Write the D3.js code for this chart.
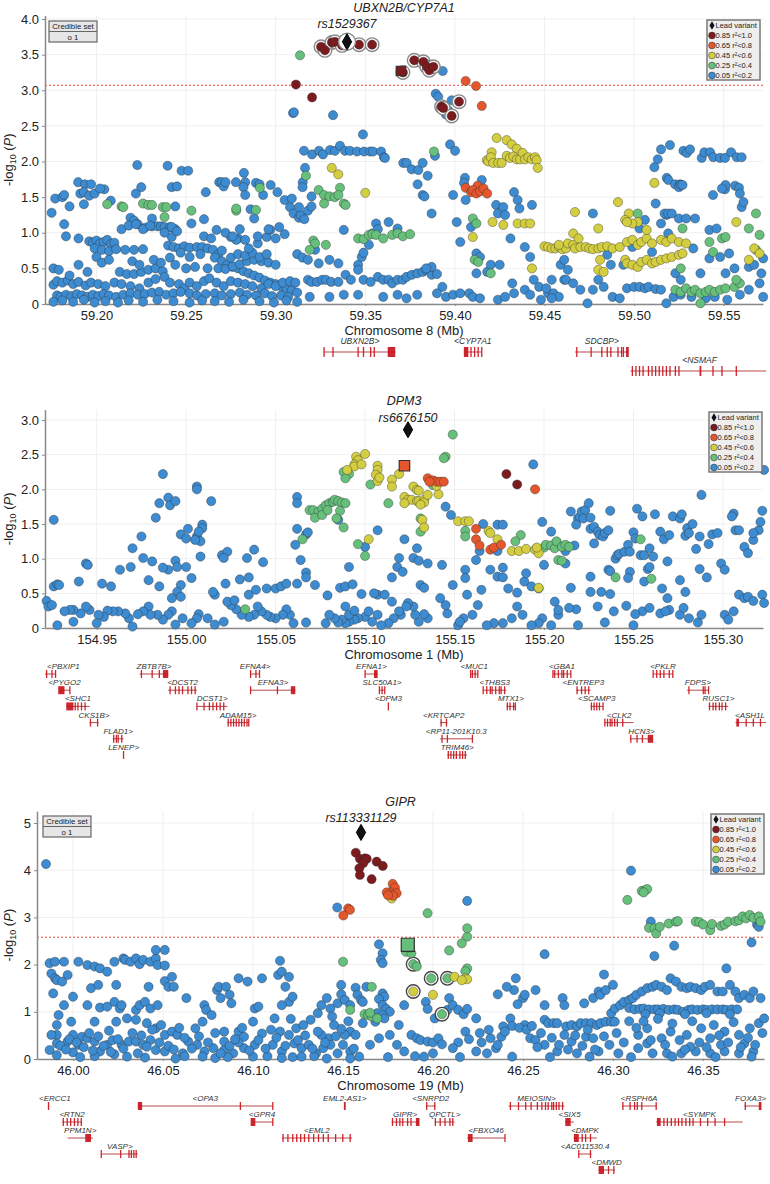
<!DOCTYPE html>
<html>
<head>
<meta charset="utf-8">
<script src="https://d3js.org/d3.v7.min.js"></script>
<style>
  body { margin: 0; background: #fff; }
  svg text { font-family: "Liberation Sans", Arial, sans-serif; }
</style>
</head>
<body>
<svg id="chart" width="770" height="1184"></svg>
<script>
// ---------- shared ----------
const ldLabels = ["0.85 r²<1.0", "0.65 r²<0.8", "0.45 r²<0.6", "0.25 r²<0.4", "0.05 r²<0.2"];
const ldColors = ["#7c1b1e", "#e4572c", "#d3cd40", "#66bf7b", "#3d8bd0"];

// ---------- panel 1 : chr8 ----------
const p1XTicks = [59.20, 59.25, 59.30, 59.35, 59.40, 59.45, 59.50, 59.55];
const p1YTicks = [0, 0.5, 1.0, 1.5, 2.0, 2.5, 3.0, 3.5, 4.0];
const p1Lead = [59.3398, 3.68];
const p1Square = [[59.3699, 3.27, 0]];
const p1Red = [[59.3253,3.61,1],[59.3275,3.56,1],[59.3314,3.67,1],[59.3331,3.68,1],[59.3370,3.63,1],[59.3465,3.64,1],[59.3538,3.64,1],
  [59.3710,3.25,1],[59.3773,3.42,1],[59.3824,3.40,1],[59.3843,3.33,1],[59.3857,3.28,1],[59.3880,3.33,1],
  [59.3926,2.77,1],[59.3935,2.75,1],[59.3982,2.64,1],[59.4023,2.84,1],[59.3113,3.08,0],[59.3203,2.90,0]];
const p1Orange = [[59.4060,3.13],[59.4118,3.06],[59.4150,2.78],[59.4060,1.63],[59.4127,1.66],[59.409,1.57],[59.410,1.60],[59.412,1.55],[59.414,1.58],[59.416,1.62],[59.418,1.55]];
const p1Yellow = [[59.4233,2.33],[59.4289,2.30],[59.4317,2.24],[59.4345,2.18],[59.4205,2.13],[59.4178,2.02],[59.4186,2.00],[59.4201,2.06],[59.4214,1.98],
  [59.4242,1.98],[59.4261,1.98],[59.4289,2.08],[59.4307,2.05],[59.4326,2.07],[59.4345,2.03],[59.4363,2.03],[59.4378,2.12],[59.4391,2.03],[59.4410,2.06],
  [59.4429,2.03],[59.4447,2.06],[59.4456,2.02],[59.4462,1.91],[59.3313,1.91],[59.3349,1.82],[59.350,1.56],[59.410,0.94],[59.421,1.15],[59.427,1.11],
  [59.435,1.13],[59.439,1.13],[59.442,1.13],[59.443,0.50],[59.450,0.81],[59.452,0.80],[59.454,0.78],[59.456,0.78],[59.458,0.80],[59.460,0.77],[59.462,0.78],
  [59.463,0.85],[59.466,0.83],[59.467,0.78],[59.470,0.80],[59.473,0.80],[59.475,0.78],[59.477,0.77],[59.480,0.78],[59.482,0.80],[59.485,0.81],[59.488,0.78],
  [59.466,0.99],[59.469,0.92],[59.458,0.83],[59.467,1.29],[59.491,1.43],[59.497,1.27],[59.502,1.15],[59.499,1.13],[59.495,1.18],[59.496,1.15],[59.480,1.06],
  [59.481,0.62],[59.480,0.48],[59.483,0.45],[59.495,0.62],[59.496,0.57],[59.499,0.55],[59.502,0.52],[59.504,0.59],[59.507,0.62],[59.510,0.57],[59.512,0.59],
  [59.515,0.62],[59.518,0.64],[59.521,0.66],[59.525,0.69],[59.527,0.71],[59.492,0.80],[59.496,0.87],[59.499,0.90],[59.502,0.83],[59.504,0.87],[59.507,0.92],
  [59.510,0.85],[59.515,0.90],[59.518,0.87],[59.521,0.92],[59.525,0.87],[59.529,0.85],[59.507,1.04],[59.5113,1.70],[59.557,1.15],[59.564,0.62],[59.567,0.78],[59.570,0.71]];
const p1Green = [[59.3136,3.49],[59.3169,1.80],[59.3359,1.63],[59.2912,1.63],[59.3883,2.14],
  [59.206,1.40],[59.214,1.37],[59.215,1.36],[59.226,1.41],[59.229,1.39],[59.231,1.39],[59.237,1.36],[59.239,1.36],[59.253,1.31],[59.238,1.22],[59.278,1.31],
  [59.278,1.34],[59.289,1.32],[59.346,0.92],[59.349,0.91],[59.352,0.97],[59.354,0.98],[59.356,0.97],[59.360,0.92],[59.365,0.97],[59.368,0.99],[59.371,0.95],
  [59.375,0.98],[59.321,0.89],[59.322,0.85],[59.319,0.76],[59.328,0.83],[59.324,1.60],[59.327,1.53],[59.330,1.51],[59.333,1.50],[59.335,1.53],[59.338,1.41],
  [59.339,1.39],[59.327,1.41],[59.410,1.20],[59.412,1.13],[59.411,0.62],[59.413,0.59],[59.420,0.43],[59.523,0.20],[59.526,0.17],[59.529,0.22],[59.532,0.17],
  [59.534,0.20],[59.537,0.15],[59.540,0.17],[59.542,0.20],[59.545,0.17],[59.548,0.20],[59.551,0.22],[59.556,0.24],[59.559,0.29],[59.557,0.34],[59.537,0.01],
  [59.502,1.27],[59.526,0.50],[59.527,1.06],[59.549,0.92],[59.551,0.94],[59.542,0.87],[59.544,0.73],[59.564,1.06],[59.568,1.27],[59.570,0.97],[59.568,0.76]];
const p1Blue = [[59.3097,2.68],[59.3102,2.69],[59.3320,2.65],[59.3487,2.38],[59.3158,2.15],[59.3203,2.10],[59.3242,2.15],[59.3264,2.10],[59.3303,2.16],
  [59.3331,2.15],[59.3359,2.22],[59.3387,2.15],[59.3415,2.15],[59.3454,2.14],[59.3493,2.14],[59.3527,2.14],[59.3543,2.14],[59.3588,2.14],[59.3604,2.06],
  [59.3164,1.91],[59.3151,1.71],[59.1898,1.71],[59.1936,1.68],[59.2044,1.61],[59.2228,1.95],[59.2397,1.94],[59.2420,1.64],[59.2475,1.87],[59.2512,1.87],
  [59.2685,1.71],[59.2699,1.71],[59.2778,1.71],[59.2823,1.84],[59.2830,1.71],[59.2890,1.70],[59.2972,1.67],
  [59.3932,3.27],[59.3893,2.95],[59.3907,2.91],[59.3950,2.66],[59.3963,2.72],[59.3982,2.86],[59.3889,2.08],[59.3973,2.24],[59.4001,2.15],[59.3610,2.05],
  [59.3712,1.98],[59.3731,1.98],[59.3759,1.89],[59.3796,1.88],[59.3820,1.98],[59.3848,1.80],[59.3792,1.68],
  [59.5150,2.17],[59.5200,2.23],[59.5132,2.03],[59.5113,1.92],[59.5275,2.15],[59.5294,2.12],[59.5312,2.17],[59.5377,2.05],[59.5392,2.13],[59.5424,2.13],
  [59.5442,2.06],[59.5479,2.05],[59.5507,2.05],[59.5541,2.13],[59.5573,2.06],[59.5600,2.06],[59.5182,1.77],[59.5191,1.74],[59.5228,1.68],[59.5256,1.68],
  [59.5507,1.61],[59.5563,1.66],[59.5585,1.63],[59.4056,1.77],[59.4150,1.74],[59.4051,1.70],
  [59.175,1.28],[59.177,1.48],[59.181,1.50],[59.182,1.53],[59.191,1.55],[59.193,1.57],[59.196,1.52],[59.197,1.68],[59.199,1.55],[59.193,1.40],[59.185,1.37],
  [59.182,1.12],[59.202,1.62],[59.208,1.45],[59.219,1.21],[59.221,1.17],[59.223,1.12],[59.227,1.07],[59.231,1.09],[59.234,1.09],[59.236,1.09],[59.238,1.08],
  [59.241,1.08],[59.244,1.05],[59.222,1.55],[59.225,1.64],[59.231,1.20],[59.242,0.94],[59.245,1.65],[59.244,1.37],[59.253,1.13],[59.260,1.19],[59.261,1.57],
  [59.267,1.04],[59.271,1.65],[59.272,1.71],[59.275,0.94],[59.279,0.92],[59.282,1.64],[59.283,1.53],[59.286,1.33],[59.291,1.68],[59.293,1.53],[59.301,1.57],
  [59.305,1.46],[59.308,1.36],[59.310,1.27],[59.313,1.21],[59.314,1.25],[59.316,1.19],[59.318,1.31],[59.320,1.37],[59.309,1.48],[59.313,1.36],[59.315,1.64],
  [59.320,1.51],[59.302,1.08],[59.295,0.94],[59.297,1.04],
  [59.196,0.88],[59.198,0.86],[59.200,0.89],[59.202,0.85],[59.204,0.87],[59.206,0.90],[59.208,0.84],[59.210,0.86],[59.199,0.78],[59.203,0.76],[59.207,0.74],
  [59.211,0.77],[59.216,0.76],[59.221,0.76],[59.226,0.77],[59.240,0.82],[59.243,0.80],[59.246,0.78],[59.249,0.81],[59.252,0.79],[59.256,0.80],[59.259,0.80],
  [59.262,0.78],[59.265,0.76],[59.268,0.70],[59.258,0.70],[59.252,0.66],[59.247,0.72],[59.266,0.65],[59.270,0.60],[59.273,0.55],[59.276,0.52],[59.279,0.50],
  [59.282,0.46],[59.285,0.43],[59.288,0.40],[59.291,0.37],[59.294,0.33],[59.297,0.30],[59.300,0.28],[59.303,0.25],[59.306,0.22],[59.309,0.19],[59.312,0.16],
  [59.213,0.45],[59.217,0.42],[59.221,0.42],[59.225,0.45],[59.229,0.48],[59.233,0.50],[59.237,0.46],[59.250,0.50],[59.255,0.52],[59.262,0.50],[59.268,0.50],
  [59.272,0.49],[59.276,0.53],[59.280,0.56],[59.284,0.60],[59.288,0.62],[59.292,0.60],[59.296,0.58],[59.300,0.55],[59.275,0.65],[59.279,0.70],[59.283,0.68],
  [59.287,0.72],[59.291,0.66],[59.295,0.70],[59.270,0.75],[59.285,0.78],[59.290,0.85],[59.283,0.90],[59.278,0.90],[59.290,0.95],[59.300,0.92],[59.305,0.98],
  [59.312,0.70],[59.315,0.65],[59.318,0.62],
  [59.176,0.27],[59.178,0.32],[59.181,0.30],[59.184,0.33],[59.187,0.28],[59.190,0.31],[59.194,0.26],[59.197,0.30],[59.201,0.28],[59.205,0.25],[59.210,0.30],
  [59.214,0.28],[59.219,0.25],[59.224,0.22],[59.229,0.30],[59.233,0.35],[59.238,0.38],[59.241,0.30],[59.246,0.28],[59.249,0.22],[59.252,0.30],[59.256,0.25],
  [59.260,0.32],[59.263,0.36],[59.267,0.30],[59.271,0.25],[59.275,0.32],[59.279,0.30],[59.283,0.28],[59.287,0.25],[59.292,0.22],[59.296,0.28],[59.300,0.25],
  [59.304,0.30],[59.308,0.32],[59.311,0.30],
  [59.178,0.12],[59.180,0.10],[59.183,0.13],[59.186,0.11],[59.189,0.14],[59.192,0.12],[59.195,0.10],[59.198,0.13],[59.201,0.11],[59.204,0.14],[59.207,0.12],
  [59.211,0.10],[59.215,0.13],[59.219,0.15],[59.223,0.13],[59.227,0.14],[59.231,0.16],[59.235,0.17],[59.239,0.13],[59.243,0.15],[59.247,0.17],[59.252,0.15],
  [59.256,0.12],[59.261,0.14],[59.266,0.15],[59.270,0.12],[59.275,0.14],[59.280,0.16],[59.284,0.13],[59.289,0.12],[59.294,0.15],[59.298,0.11],[59.303,0.12],
  [59.307,0.10],[59.176,0.03],[59.181,0.05],[59.187,0.03],[59.193,0.06],[59.199,0.02],[59.205,0.04],[59.212,0.02],[59.218,0.05],[59.226,0.03],[59.234,0.06],
  [59.243,0.04],[59.252,0.02],[59.259,0.05],[59.266,0.04],[59.274,0.03],[59.282,0.06],[59.291,0.04],[59.299,0.02],[59.306,0.05],[59.312,0.03],
  [59.176,0.50],[59.179,0.48],[59.185,0.40],[59.190,0.55],[59.195,0.45],[59.200,0.66],[59.203,0.58],[59.207,0.62],[59.220,0.60],[59.224,0.55],[59.232,0.62],
  [59.236,0.58],[59.241,0.65],[59.244,0.55],[59.183,0.95],[59.190,0.92],[59.214,1.05],[59.218,1.10],[59.222,1.12],[59.226,1.05],[59.230,1.10],[59.238,1.00],
  [59.242,1.08],[59.245,1.02],[59.260,0.95],[59.264,0.92],[59.272,1.00],[59.276,0.95],[59.280,1.05],[59.288,1.20],[59.296,1.05],
  [59.318,0.34],[59.320,0.31],[59.323,0.31],[59.326,0.34],[59.328,0.34],[59.331,0.31],[59.335,0.31],[59.339,0.41],[59.342,0.34],[59.346,0.55],[59.346,0.48],
  [59.348,0.66],[59.349,0.34],[59.353,0.31],[59.357,0.38],[59.360,0.34],[59.363,0.34],[59.365,0.29],[59.368,0.34],[59.371,0.34],[59.373,0.38],[59.376,0.41],
  [59.379,0.43],[59.382,0.45],[59.384,0.48],[59.387,0.41],[59.390,0.42],[59.387,0.52],[59.384,0.50],[59.393,0.24],[59.319,0.10],[59.330,0.10],[59.338,0.13],
  [59.346,0.13],[59.360,0.10],[59.368,0.13],[59.373,0.08],[59.379,0.13],[59.390,0.15],[59.395,0.10],[59.399,0.13],[59.403,0.15],[59.408,0.15],[59.410,0.10],
  [59.414,0.08],[59.338,1.04],[59.349,0.72],[59.352,0.83],[59.354,0.99],[59.356,1.13],[59.357,1.05],[59.382,1.53],[59.383,1.51],[59.387,1.27],[59.363,1.15],
  [59.368,1.06],[59.322,0.76],[59.324,0.57],[59.330,0.62],[59.335,0.57],
  [59.399,1.53],[59.401,1.15],[59.403,0.87],[59.406,1.46],[59.409,1.08],[59.412,0.71],[59.412,0.43],[59.414,0.66],[59.418,0.45],[59.420,0.55],[59.423,1.39],
  [59.424,1.27],[59.425,0.55],[59.427,1.36],[59.428,1.25],[59.431,0.92],[59.432,0.29],[59.433,1.57],[59.435,1.46],[59.436,1.34],[59.439,0.80],[59.442,0.66],
  [59.443,1.39],[59.444,0.34],[59.433,0.15],[59.439,0.20],[59.442,0.13],[59.447,0.24],[59.448,0.06],[59.424,0.06],[59.428,0.10],[59.452,0.15],[59.454,0.34],
  [59.455,0.15],[59.458,0.10],[59.459,0.55],[59.461,0.34],
  [59.451,0.22],[59.454,0.08],[59.462,0.34],[59.466,0.29],[59.470,0.20],[59.474,0.01],[59.477,0.20],[59.480,0.34],[59.483,0.24],[59.488,0.10],[59.492,0.08],
  [59.496,0.22],[59.500,0.24],[59.503,0.24],[59.506,0.22],[59.508,0.24],[59.512,0.21],[59.515,0.20],[59.518,0.01],[59.522,0.10],[59.526,0.13],[59.532,0.10],
  [59.540,0.08],[59.545,0.10],[59.552,0.06],[59.559,0.13],[59.564,0.20],[59.570,0.29],[59.572,0.10],[59.461,0.62],[59.463,0.48],[59.477,1.27],[59.485,0.69],
  [59.487,0.55],[59.494,0.55],[59.499,0.80],[59.503,1.06],[59.506,1.18],[59.510,0.73],[59.512,1.41],[59.515,1.13],[59.518,1.25],[59.519,0.99],[59.523,0.43],
  [59.526,0.34],[59.533,0.78],[59.537,0.43],[59.542,0.64],[59.544,1.53],[59.548,0.66],[59.551,0.43],[59.553,0.71],[59.556,0.50],[59.559,1.55],[59.560,1.36],
  [59.561,1.43],[59.564,0.52],[59.567,0.55],[59.571,0.43],[59.572,0.64],[59.517,1.27],[59.519,1.27],[59.521,1.27],[59.525,1.20],[59.529,1.20],[59.534,1.20],
  [59.542,1.04],[59.546,1.06],[59.551,1.67],[59.549,1.62],[59.525,1.64],[59.526,1.67],[59.527,1.67]];
const genes1 = [
  ["UBXN2B>", 59.327, 59.367, 0, [59.327, 59.332, 59.346, 59.349, 59.353, 59.355, [59.3625, 59.3667]]],
  ["<CYP7A1", 59.405, 59.415, 0, [[59.405, 59.4075], 59.409, 59.411, 59.413, 59.415]],
  ["SDCBP>", 59.467, 59.497, 0, [59.468, 59.476, 59.482, 59.485, 59.487, 59.491, 59.493, 59.494, [59.4955, 59.497]]],
  ["<NSMAF", 59.498, 59.575, 1, [59.499, 59.501, 59.503, 59.505, 59.508, 59.510, 59.512, 59.514, 59.516, 59.518, 59.520, 59.523, 59.525, [59.5365, 59.5375], 59.544, 59.549, 59.557]]
];

// ---------- panel 2 : chr1 ----------
const p2XTicks = [154.95, 155.00, 155.05, 155.10, 155.15, 155.20, 155.25, 155.30];
const p2YTicks = [0, 0.5, 1.0, 1.5, 2.0, 2.5, 3.0];
const p2Lead = [155.124, 2.86];
const p2Square = [[155.122, 2.34, 1]];
const p2Red = [[155.179,2.22],[155.185,2.07]];
const p2Orange = [[155.195,2.00],[155.135,2.16],[155.138,2.13],[155.140,2.11],[155.142,2.11],[155.144,2.11],[155.136,2.11],[155.162,1.43],[155.162,1.28],
  [155.164,1.19],[155.170,1.13],[155.172,1.16],[155.176,1.20]];
const p2Yellow = [[155.095,2.47],[155.096,2.42],[155.100,2.51],[155.094,2.36],[155.094,2.33],[155.090,2.28],[155.098,2.36],[155.107,2.34],[155.107,2.28],
  [155.106,2.21],[155.107,2.12],[155.108,2.17],[155.119,2.22],[155.115,2.14],[155.115,2.04],[155.127,2.04],[155.129,1.99],[155.130,1.98],[155.122,1.89],
  [155.124,1.85],[155.126,1.85],[155.129,1.83],[155.130,1.83],[155.133,1.85],[155.133,1.81],[155.131,1.78],[155.122,1.80],[155.135,1.92],[155.141,1.93],
  [155.140,2.05],[155.132,1.56],[155.133,1.45],[155.102,1.28],[155.182,1.11],[155.186,1.11],[155.190,1.14],[155.195,1.13],[155.197,1.08],[155.196,1.16],
  [155.169,1.40],[155.170,1.37],[155.174,1.28],[155.152,1.54],[155.156,1.54],[155.158,1.54],[155.197,0.58]];
const p2Green = [[155.149,2.79],[155.145,2.47],[155.144,2.45],[155.088,2.25],[155.091,2.22],[155.089,2.16],[155.103,2.07],[155.113,1.80],[155.131,1.58],
  [155.131,1.39],[155.138,2.06],[155.069,1.70],[155.071,1.70],[155.074,1.68],[155.076,1.72],[155.078,1.77],[155.080,1.80],[155.082,1.82],[155.083,1.85],
  [155.085,1.83],[155.087,1.81],[155.089,1.80],[155.072,1.59],[155.076,1.63],[155.079,1.70],[155.086,1.69],[155.084,1.58],[155.088,1.45],[155.096,1.21],
  [155.100,1.04],[155.065,1.28],[155.156,1.40],[155.156,1.32],[155.200,1.16],[155.201,1.20],[155.204,1.19],[155.206,1.15],[155.207,1.25],[155.210,1.17],
  [155.212,1.20],[155.208,0.98],[155.210,0.97],[155.214,1.17],[155.187,1.34],[155.184,1.25],[155.033,0.27],[155.254,1.28],[155.240,0.73],[155.260,0.71],
  [155.197,0.57]];
const p2Blue = [[155.194,2.36],[155.323,2.28],[154.987,2.22],[154.983,1.59],[154.985,1.80],[154.990,1.88],[154.991,1.77],[154.994,1.83],[155.006,2.04],
  [155.006,2.00],[155.014,1.83],[155.009,1.49],[155.009,1.44],[155.001,1.43],[154.997,1.35],[155.000,1.29],[155.006,1.32],[155.008,1.25],[155.007,1.39],
  [155.005,1.27],[155.000,0.88],[155.008,1.03],[155.020,1.05],[155.023,1.10],[155.021,1.01],[155.034,1.01],[155.038,1.13],[155.043,0.95],[154.994,0.97],
  [154.995,0.88],[154.990,0.84],[154.987,0.87],[154.981,0.96],[154.976,1.01],[154.975,1.32],[154.969,0.88],[154.963,0.84],[154.958,0.60],[154.953,0.64],
  [154.944,0.93],[154.945,0.91],[154.940,0.67],[154.926,0.60],[154.928,0.63],[154.929,0.62],[154.926,1.56],[154.979,0.69],[154.985,0.60],[154.970,1.15],
  [154.997,0.62],[154.995,0.52],[154.992,0.43],[154.997,0.45],[155.003,0.72],[155.016,0.48],[155.015,0.52],[155.022,0.64],[155.030,0.70],[155.035,0.73],
  [155.045,0.57],[155.035,0.48],[155.039,0.55],[155.050,0.57],[155.053,0.60],[155.056,0.64],[155.062,1.89],[155.062,1.80],[155.061,1.20],[155.062,1.43],
  [155.067,1.35],[155.068,1.38],[155.064,0.98],[155.067,0.80],[155.067,0.73],[155.062,0.64],[155.072,0.62],[155.079,0.47],[155.086,0.58],[155.089,0.60],
  [155.093,0.63],[155.091,0.88],[155.085,1.56],[155.100,1.17],[155.107,1.41],[155.107,0.48],[155.111,0.48],[155.115,0.73],[155.118,0.88],[155.119,1.01],
  [155.121,0.81],[155.122,1.28],[155.127,1.01],[155.129,1.15],[155.130,0.97],[155.131,0.62],[155.133,0.58],[155.135,0.93],[155.143,0.91],[155.145,1.75],
  [155.148,1.63],[155.149,0.62],[155.156,0.84],[155.162,0.98],[155.164,1.11],[155.166,1.50],[155.174,1.49],[155.177,1.49],[155.174,1.11],[155.170,0.84],
  [155.174,0.74],[155.177,0.73],[155.177,0.87],[155.156,0.72],[155.157,0.48],[155.165,0.55],[155.180,0.57],[155.185,0.51],[155.189,0.67],[155.190,0.79],
  [155.193,0.60],[155.199,1.53],[155.200,0.91],[155.204,1.39],[155.212,0.93],[155.215,0.58],[155.207,1.24],[155.212,1.11],[155.217,1.19],[155.215,1.68],
  [155.219,1.58],[155.220,1.60],[155.221,1.68],[155.223,1.70],[155.225,1.80],[155.222,1.58],[155.218,1.49],[155.226,1.59],[155.226,1.43],[155.228,1.46],
  [155.230,1.39],[155.231,1.34],[155.233,1.32],[155.234,1.37],[155.236,1.41],[155.237,1.69],[155.228,1.22],[155.236,0.84],[155.237,0.82],[155.240,1.00],
  [155.241,1.05],[155.242,1.07],[155.245,1.10],[155.247,1.20],[155.248,1.10],[155.250,1.38],[155.251,1.29],[155.252,1.72],[155.254,1.05],[155.255,1.61],
  [155.256,1.05],[155.258,0.85],[155.259,1.15],[155.261,1.03],[155.262,1.64],[155.265,1.39],[155.267,1.28],[155.269,0.96],[155.270,1.34],[155.272,1.61],
  [155.276,1.58],[155.277,1.64],[155.279,1.33],[155.280,1.44],[155.281,1.37],[155.283,1.50],[155.285,1.14],[155.287,1.32],[155.288,1.92],[155.292,1.21],
  [155.294,1.35],[155.287,0.85],[155.297,1.37],[155.307,1.41],[155.309,1.41],[155.306,1.65],[155.305,1.61],[155.312,1.17],[155.314,1.08],[155.317,1.27],
  [155.320,1.41],[155.321,1.53],[155.322,1.69],[155.317,1.37],[155.291,0.73],[155.299,0.93],[155.301,0.84],[155.276,0.69],[155.279,0.52],[155.269,0.43],
  [155.270,0.26],[155.276,0.19],[155.278,0.29],[155.281,0.14],[155.286,0.08],[155.288,0.19],[155.301,0.19],[155.303,0.12],[155.306,0.24],[155.309,0.48],
  [155.312,0.43],[155.314,0.45],[155.317,0.39],[155.322,0.48],[155.323,0.36],[155.255,0.24],[155.251,0.20],[155.259,0.29],[155.265,0.21],[155.268,0.24],
  [155.266,0.57],[155.256,0.67],[155.259,0.88],[155.248,0.81],[155.247,0.72],[155.246,0.32],[155.250,0.04],[155.239,0.24],[155.237,0.49],[155.232,0.52],
  [155.230,0.31],[155.226,0.74],[155.226,0.52],[155.234,0.08],[155.219,0.04],[155.218,0.27],[155.214,0.29],[155.208,0.19],[155.206,0.38],[155.208,0.26],
  [155.199,0.14],[155.197,0.07],[155.204,0.04],[155.193,0.04],[155.188,0.19],[155.185,0.31],[155.182,0.14],[155.177,0.07],[155.172,0.07],[155.168,0.04],
  [155.163,0.33],[155.160,0.19],[155.155,0.14],[155.152,0.04],[155.153,0.09],[155.146,0.21],[155.145,0.33],[155.142,0.43],[155.135,0.14],[155.130,0.09],
  [155.133,0.20],[155.128,0.19],[155.127,0.31],[155.124,0.36],[155.123,0.31],[155.120,0.19],[155.119,0.24],[155.116,0.14],[155.113,0.07],[155.109,0.04],
  [155.107,0.19],[155.104,0.09],[155.100,0.16],[155.096,0.14],[155.094,0.12],[155.091,0.09],[155.089,0.07],[155.087,0.12],[155.085,0.08],[155.083,0.14],
  [155.089,0.31],[155.091,0.19],[155.094,0.25],[155.102,0.24],[155.115,0.38],[155.105,0.50],[155.098,0.49],[155.078,0.07],[155.080,0.19],[155.067,0.08],
  [155.060,0.07],[155.058,0.19],[155.056,0.27],[155.054,0.19],[155.050,0.14],[155.047,0.16],[155.045,0.19],[155.042,0.24],[155.040,0.31],[155.038,0.19],
  [155.035,0.16],[155.031,0.19],[155.028,0.27],[155.025,0.33],[155.023,0.38],[155.027,0.40],[155.021,0.09],[155.016,0.05],[155.012,0.14],[155.007,0.20],
  [155.006,0.14],[155.003,0.07],[154.998,0.14],[154.994,0.05],[154.992,0.24],[154.990,0.19],[154.987,0.12],[154.984,0.19],[154.979,0.31],[154.980,0.19],
  [154.976,0.24],[154.973,0.20],[154.970,0.02],[154.968,0.14],[154.966,0.21],[154.962,0.24],[154.959,0.24],[154.956,0.25],[154.954,0.16],[154.951,0.19],
  [154.950,0.07],[154.946,0.26],[154.944,0.31],[154.941,0.21],[154.937,0.26],[154.937,0.09],[154.935,0.26],[154.932,0.24],[154.928,0.04],[154.922,0.39],
  [154.923,0.31],[154.925,0.33]];
const genes2 = [
  ["<PBXIP1", 154.921, 154.927, 0, [154.922, 154.925, 154.927]],
  ["ZBTB7B>", 154.974, 154.990, 0, [154.975, 154.981, 154.985, [154.987, 154.990]]],
  ["EFNA4>", 155.036, 155.041, 0, [155.036, 155.039, 155.041]],
  ["EFNA1>", 155.100, 155.107, 0, [155.100, [155.105, 155.107]]],
  ["<MUC1", 155.159, 155.163, 0, [155.159, 155.160, 155.1615, 155.163]],
  ["<GBA1", 155.205, 155.215, 0, [155.205, 155.206, 155.208, 155.210, 155.211, 155.213, 155.215]],
  ["<PKLR", 155.261, 155.272, 0, [155.261, 155.263, 155.265, 155.267, 155.270, 155.272]],
  ["<PYGO2", 154.929, 154.935, 1, [[154.9285, 154.932], 154.935]],
  ["<DCST2", 154.990, 155.006, 1, [154.991, 154.994, 154.996, 154.998, 155.001, 155.003, 155.005]],
  ["EFNA3>", 155.036, 155.061, 1, [155.036, 155.051, [155.0585, 155.061]]],
  ["SLC50A1>", 155.108, 155.111, 1, [155.108, 155.1095, 155.111]],
  ["<THBS3", 155.166, 155.179, 1, [155.166, 155.168, 155.170, 155.171, 155.173, 155.175, 155.176, 155.178]],
  ["<ENTREP3", 155.218, 155.226, 1, [155.2185, 155.221, 155.223, 155.225]],
  ["FDPS>", 155.280, 155.292, 1, [155.281, 155.289, 155.290, 155.292]],
  ["<SHC1", 154.933, 154.946, 2, [[154.933, 154.937], 154.938, 154.9395, 154.9415, 154.9435]],
  ["DCST1>", 155.006, 155.023, 2, [155.006, 155.010, 155.013, 155.015, 155.017, 155.019, 155.021]],
  ["<DPM3", 155.113, 155.1131, 2, [155.113]],
  ["MTX1>", 155.179, 155.184, 2, [155.1795, 155.181, 155.183, 155.184]],
  ["<SCAMP3", 155.226, 155.233, 2, [155.2265, 155.228, 155.2295, 155.231, 155.233]],
  ["RUSC1>", 155.292, 155.303, 2, [155.2925, 155.2945, 155.296, 155.298, 155.2995, 155.3015]],
  ["CKS1B>", 154.946, 154.951, 3, [154.9465, 154.9505]],
  ["ADAM15>", 155.023, 155.035, 3, [155.0235, 155.025, 155.0265, 155.028, 155.0295, 155.031, 155.0325, 155.034, 155.035]],
  ["<KRTCAP2", 155.142, 155.146, 3, [155.1425, 155.1455]],
  ["<CLK2", 155.234, 155.250, 3, [155.234, 155.2355, 155.237, 155.238, 155.2395, 155.241, 155.244]],
  ["<ASH1L", 155.307, 155.327, 3, [[155.3075, 155.309], 155.313, 155.317, 155.321]],
  ["FLAD1>", 154.959, 154.965, 4, [154.9595, 154.961, 154.962, 154.964]],
  ["<RP11-201K10.3", 155.142, 155.160, 4, [155.143, 155.146, 155.160]],
  ["HCN3>", 155.248, 155.261, 4, [155.2485, 155.252, 155.255, [155.258, 155.261]]],
  ["LENEP>", 154.965, 154.9651, 5, [154.965]],
  ["TRIM46>", 155.146, 155.157, 5, [155.1465, 155.148, 155.1495, 155.151, 155.153, 155.1545, 155.156]]
];

// ---------- panel 3 : chr19 ----------
const p3XTicks = [46.00, 46.05, 46.10, 46.15, 46.20, 46.25, 46.30, 46.35];
const p3YTicks = [0, 1, 2, 3, 4, 5];
const p3Lead = [46.160, 4.80];
const p3Square = [[46.186, 2.42, 3]];
const p3Red = [[46.1571,4.37],[46.1594,4.24],[46.1622,4.25],[46.1632,4.24],[46.1613,4.15],[46.1591,4.04],[46.1594,3.90],[46.1659,3.81],[46.1687,4.18],[46.1721,4.09]];
const p3Orange = [[46.1776,3.71],[46.1789,3.63],[46.1761,3.53],[46.1743,3.53],[46.1798,3.51],[46.1778,3.46],[46.1750,3.47],[46.1529,3.19],[46.1539,3.16],[46.1502,3.04]];
const p3Yellow = [[46.1771,3.40,0],[46.212,1.74,0],[46.218,1.71,0],[46.219,1.69,0],[46.216,1.67,0],[46.189,1.43,1],[46.200,1.36,0]];
const p3Green = [[46.197,3.09,0],[46.308,3.37,0],[46.316,3.56,0],[46.318,3.58,0],[46.319,3.60,0],[46.317,3.53,0],[46.320,2.78,0],[46.323,2.77,0],[46.324,2.66,0],
  [46.326,2.80,0],[46.331,2.87,0],[46.335,2.91,0],[46.336,2.92,0],[46.346,2.91,0],[46.348,2.90,0],[46.350,2.85,0],[46.354,2.73,0],[46.355,2.86,0],[46.360,2.82,0],
  [46.362,2.85,0],[46.364,2.91,0],[46.368,2.92,0],[46.370,2.94,0],[46.372,3.02,0],[46.374,2.98,0],[46.376,3.05,0],[46.378,2.99,0],[46.381,3.02,0],[46.382,2.91,0],
  [46.219,2.59,0],[46.219,2.77,0],[46.216,2.45,0],[46.209,2.30,0],[46.219,1.92,0],[46.218,1.86,0],[46.185,2.27,0],[46.188,2.24,0],[46.187,2.36,0],[46.189,2.01,1],
  [46.191,1.96,0],[46.199,1.71,1],[46.208,1.71,1],[46.205,0.95,1],[46.150,2.06,0],[46.166,1.53,0],[46.154,1.04,0],[46.162,0.95,0],[46.164,0.93,0],[46.166,0.90,0],
  [46.169,0.86,0],[46.165,0.98,0]];
const p3Blue = [[45.985,4.13],[46.1468,3.21],[46.219,3.35],[46.310,3.99],[46.321,2.91],[46.380,2.85],[46.381,2.80],[46.377,2.47],[46.334,2.40],[46.323,2.18],
  [46.363,1.92],[46.170,2.43],[46.172,2.24],[46.171,2.10],[46.172,2.03],[46.149,1.57],[46.157,1.51],[46.163,1.53],[46.158,1.36],[46.160,1.25],[46.161,1.21],
  [46.172,1.39],[46.173,1.32],[46.170,1.27],[46.172,1.14],[46.174,1.06],[46.176,1.00],[46.169,0.97],[46.172,0.93],[46.173,0.86],[46.168,0.79],[46.184,1.14],
  [46.181,0.72],[46.161,0.76],[46.154,0.58],[46.151,0.51],[46.157,0.51],[46.149,0.64],[46.145,0.72],[46.142,0.44],[46.138,0.51],[46.143,0.30],[46.147,0.12],
  [46.154,0.16],[46.159,0.05],[46.165,0.30],[46.170,0.44],[46.176,0.51],[46.180,0.30],[46.184,0.16],[46.188,0.51],[46.191,0.44],[46.193,0.40],[46.197,0.37],
  [46.200,0.35],[46.203,0.44],[46.205,0.31],[46.195,0.05],[46.200,0.12],[46.196,1.21],[46.197,1.06],[46.201,0.86],[46.208,1.04],[46.209,1.29],[46.211,1.14],
  [46.214,1.04],[46.217,0.95],[46.218,0.58],[46.219,1.06],[46.220,0.42],[46.214,0.35],[46.211,0.23],[46.224,0.16],[46.230,0.12],[46.235,0.23],[46.238,0.47],
  [46.232,0.44],[46.227,0.35],[46.224,0.86],[46.236,1.37],[46.245,1.46],[46.246,1.71],[46.241,1.53],[46.250,1.29],[46.251,1.36],[46.247,1.16],[46.239,0.69],
  [46.243,0.86],[46.251,0.72],[46.254,0.44],[46.257,0.40],[46.257,1.46],[46.262,2.22],[46.262,1.14],[46.262,0.83],[46.264,0.76],[46.267,0.76],[46.269,0.76],
  [46.272,1.29],[46.273,1.14],[46.274,0.69],[46.277,0.72],[46.280,0.69],[46.282,0.76],[46.285,0.76],[46.288,0.76],[46.291,0.72],[46.293,0.76],[46.296,0.79],
  [46.299,0.79],[46.301,0.79],[46.273,0.51],[46.285,0.47],[46.289,0.44],[46.277,0.37],[46.262,0.30],[46.269,0.16],[46.280,0.12],[46.292,0.16],[46.303,0.12],
  [46.284,1.18],[46.289,1.29],[46.292,1.43],[46.293,1.36],[46.295,1.79],[46.296,1.46],[46.300,1.57],[46.299,0.97],[46.301,1.07],[46.304,1.14],[46.306,1.21],
  [46.309,1.25],[46.311,1.29],[46.313,1.36],[46.316,1.43],[46.319,1.50],[46.322,1.53],[46.324,1.57],[46.327,1.53],[46.330,1.46],[46.332,1.71],[46.335,1.64],
  [46.338,1.53],[46.341,1.50],[46.343,1.53],[46.346,1.50],[46.349,1.46],[46.351,1.53],[46.354,1.57],[46.358,1.43],[46.361,1.43],[46.365,1.57],[46.368,1.43],
  [46.370,1.29],[46.373,1.36],[46.376,1.29],[46.378,1.43],[46.382,1.29],
  [46.309,1.08],[46.312,1.05],[46.315,1.06],[46.317,1.07],[46.320,1.05],[46.323,1.05],[46.325,1.05],[46.328,1.06],[46.331,1.04],[46.334,1.05],[46.336,1.04],
  [46.339,1.00],[46.342,1.04],[46.344,1.05],[46.347,1.04],[46.350,1.05],[46.352,1.04],[46.355,1.05],[46.358,1.05],[46.361,1.05],[46.363,1.04],[46.366,1.05],
  [46.369,1.05],[46.318,0.95],[46.326,0.97],[46.340,0.95],[46.352,0.97],[46.365,0.95],
  [46.314,0.51],[46.319,0.65],[46.327,0.44],[46.332,0.58],[46.341,0.51],[46.349,0.65],[46.354,0.44],[46.362,0.58],[46.370,0.51],[46.376,0.65],[46.381,0.76],
  [46.384,0.86],[46.314,0.23],[46.322,0.12],[46.330,0.12],[46.338,0.12],[46.346,0.16],[46.354,0.12],[46.362,0.16],[46.370,0.12],[46.378,0.16],[46.319,0.33],
  [46.343,0.26],[46.360,0.30],[46.373,0.33],
  [45.987,2.03],[45.990,2.06],[45.988,1.81],[45.990,1.71],[45.989,1.39],[45.991,1.67],[45.992,0.93],[45.991,0.72],[45.991,0.51],[45.988,0.51],[45.991,0.33],
  [45.987,0.19],[45.991,0.08],[45.995,2.06],[45.997,1.78],[45.994,1.64],[46.000,1.32],[45.995,1.14],[45.999,0.79],[46.000,0.51],[45.997,0.37],[46.000,0.14],
  [46.003,0.30],[46.005,0.47],[46.008,1.14],[46.010,1.50],[46.003,2.06],[46.008,1.99],[46.012,1.96],[46.015,1.92],[46.019,1.85],[46.014,1.57],[46.015,1.09],
  [46.019,1.11],[46.023,1.21],[46.023,2.06],[46.024,1.57],[46.026,1.07],[46.027,1.14],[46.030,0.86],[46.024,0.79],[46.012,0.79],[46.008,0.44],[46.012,0.37],
  [46.015,0.16],[46.019,0.30],[46.022,0.40],[46.023,0.10],[46.027,0.30],[46.031,0.37],[46.028,2.13],[46.029,2.10],[46.032,2.06],[46.035,2.13],[46.037,2.01],
  [46.039,2.10],[46.042,1.53],[46.043,2.06],[46.046,2.13],[46.047,1.99],[46.051,1.98],[46.046,2.31],[46.051,2.31],[46.051,1.65],[46.053,1.53],[46.055,1.74],
  [46.056,1.53],[46.035,1.04],[46.037,1.14],[46.040,1.21],[46.043,1.07],[46.047,1.14],[46.035,0.83],[46.041,0.76],[46.046,0.65],[46.049,0.72],[46.051,0.51],
  [46.055,0.58],[46.058,0.51],[46.035,0.37],[46.039,0.30],[46.043,0.40],[46.046,0.19],[46.051,0.16],[46.057,0.01],[46.061,0.12],[46.064,0.37],[46.063,1.29],
  [46.068,0.65],[46.072,0.79],[46.073,1.14],[46.074,1.04],[46.077,0.93],[46.080,1.46],[46.081,1.53],[46.082,1.29],[46.085,1.53],[46.087,1.36],[46.088,1.18],
  [46.092,1.71],[46.097,1.64],[46.084,0.58],[46.092,0.58],[46.095,0.47],[46.100,0.79],[46.101,1.07],[46.103,1.11],[46.105,1.71],[46.114,1.78],[46.115,2.08],
  [46.116,1.85],[46.120,1.74],[46.118,1.53],[46.120,1.21],[46.122,1.32],[46.116,1.14],[46.112,0.86],[46.115,0.58],[46.120,0.51],[46.124,0.65],[46.128,0.72],
  [46.132,0.83],[46.136,0.97],[46.138,1.14],[46.141,1.29],[46.143,1.07],[46.147,1.18],[46.149,1.37],[46.151,1.25],[46.154,1.14],[46.105,0.54],[46.101,0.30],
  [46.095,0.23],[46.089,0.12],[46.084,0.19],[46.078,0.23],[46.073,0.16],[46.069,0.30],[46.084,0.37],[46.092,0.35],[46.111,0.30],[46.116,0.16],[46.123,0.33],
  [46.127,0.23],[46.131,0.30],[46.135,0.12],[46.139,0.23],[46.072,0.05],[46.079,0.02],[46.100,0.05],[46.116,0.02],[46.127,0.05],[46.141,0.01],[46.154,0.01],
  [46.004,0.04],[46.012,0.06],[46.030,0.05],[46.040,0.03],[46.062,0.06],[46.086,0.04],[46.108,0.06],[46.122,0.04],[46.134,0.06],[46.175,0.04],[46.190,0.06],
  [46.215,0.04],[46.244,0.05],[46.265,0.04],[46.287,0.05],[46.310,0.04],[46.333,0.05],[46.357,0.04],[46.377,0.05],
  [45.993,0.28],[45.996,0.20],[45.998,0.42],[46.002,0.35],[46.006,0.25],[46.009,0.55],[46.011,0.18],[46.014,0.48],[46.017,0.28],[46.020,0.60],[46.021,0.15],
  [46.025,0.42],[46.028,0.22],[46.033,0.55],[46.036,0.12],[46.038,0.50],[46.041,0.26],[46.044,0.62],[46.048,0.35],[46.053,0.28],[46.056,0.20],[46.059,0.66],
  [46.062,0.45],[46.066,0.22],[46.070,0.48],[46.075,0.35],[46.079,0.55],[46.082,0.12],[46.087,0.28],[46.090,0.42],[46.094,0.66],[46.098,0.18],[46.103,0.40],
  [46.107,0.22],[46.110,0.62],[46.113,0.45],[46.118,0.28],[46.121,0.85],[46.125,0.40],[46.129,0.50],[46.133,0.22],[46.136,0.58],[46.140,0.35],[46.144,0.90],
  [46.146,0.48],[46.150,0.30],[46.153,0.80],[46.156,0.22],[46.226,0.55],[46.231,0.62],[46.236,0.30],[46.240,0.58],[46.244,0.70],[46.248,0.66],[46.252,0.62],
  [46.255,0.70],[46.258,0.25],[46.260,0.55],[46.266,0.45],[46.270,0.30],[46.275,0.20],[46.279,0.50],[46.283,0.28],[46.286,0.62],[46.290,0.20],[46.295,0.48],
  [46.298,0.30],[46.302,0.55],[46.306,0.35],[46.309,0.80],[46.313,0.66],[46.317,0.80],[46.321,0.40],[46.325,0.85],[46.329,0.30],[46.333,0.75],[46.337,0.40],
  [46.340,0.20],[46.344,0.80],[46.348,0.35],[46.352,0.25],[46.356,0.72],[46.359,0.50],[46.364,0.35],[46.367,0.78],[46.371,0.25],[46.375,0.45],[46.379,0.30],
  [46.383,0.55]];
const genes3 = [
  ["<ERCC1", 45.986, 45.9868, 0, [45.9864]],
  ["<OPA3", 46.036, 46.111, 0, [[46.036, 46.0384], 46.093, 46.111]],
  ["EML2-AS1>", 46.1505, 46.1515, 0, [[46.1505, 46.1515]]],
  ["<SNRPD2", 46.196, 46.2015, 0, [46.1965, 46.201]],
  ["MEIOSIN>", 46.242, 46.273, 0, [46.243, 46.2475, 46.2515, 46.2545, 46.258, 46.2605, 46.2625, 46.264, 46.266, 46.267, 46.2685, 46.270, 46.272]],
  ["<RSPH6A", 46.305, 46.324, 0, [46.3055, 46.3095, 46.312, 46.3135, 46.316, 46.324]],
  ["FOXA3>", 46.373, 46.382, 0, [46.3735, [46.381, 46.3825]]],
  ["<RTN2", 45.994, 46.005, 1, [45.9946, 45.9968, 45.9987, 46.0008, 46.0027, 46.0046]],
  ["<GPR4", 46.099, 46.111, 1, [[46.0987, 46.1013], 46.111]],
  ["GIPR>", 46.177, 46.192, 1, [46.1775, 46.1797, 46.1816, 46.1832, 46.1859, 46.1878, [46.1905, 46.1925]]],
  ["QPCTL>", 46.201, 46.212, 1, [46.2013, 46.204, 46.2067, 46.2094, 46.211]],
  ["<SIX5", 46.2735, 46.2783, 1, [[46.2735, 46.2765]]],
  ["<SYMPK", 46.324, 46.372, 1, [[46.3244, 46.3265], 46.3283, 46.3302, 46.3324, 46.3345, 46.3364, 46.3383, 46.3405, 46.3426, 46.3445, 46.3486, 46.3526, 46.3567, 46.362]],
  ["PPM1N>", 45.997, 46.011, 2, [[46.0068, 46.0100]]],
  ["<EML2", 46.116, 46.155, 2, [46.1167, 46.1194, 46.1221, 46.1243, 46.1265, 46.1286, 46.131, 46.1337, 46.1364, 46.1391, 46.1418, 46.1459, 46.1499, 46.154]],
  ["<FBXO46", 46.219, 46.240, 2, [[46.2194, 46.222], 46.240]],
  ["<DMPK", 46.278, 46.291, 2, [[46.2783, 46.281], 46.2829, 46.2848, 46.2875]],
  ["VASP>", 46.016, 46.036, 3, [46.0157, 46.0265, 46.0311, 46.0324, 46.0338, 46.0351]],
  ["<AC011530.4", 46.281, 46.288, 3, [46.281, 46.2875]],
  ["<DMWD", 46.292, 46.301, 4, [[46.292, 46.295], 46.2975, 46.3005]]
];

// ---------- drawing ----------
const svg = d3.select("#chart");
const font = "'Liberation Sans', Arial, sans-serif";

function drawPanel(o) {
  const x = d3.scaleLinear().domain(o.xDomain).range([o.left, o.right]);
  const y = d3.scaleLinear().domain([0, o.yMax]).range([o.bottom, o.bottom - o.yMax * o.ppu]);
  const g = svg.append("g");
  const top = y(o.yMax);

  // faint grid
  g.append("g").selectAll("line").data(o.yTicks).join("line")
    .attr("x1", o.left).attr("x2", o.right).attr("y1", d => y(d)).attr("y2", d => y(d))
    .attr("stroke", "#efefef");
  g.append("g").selectAll("line").data(o.xTicks).join("line")
    .attr("x1", d => x(d)).attr("x2", d => x(d)).attr("y1", top).attr("y2", o.bottom)
    .attr("stroke", "#efefef");

  if (o.threshold != null) {
    g.append("line").attr("x1", o.left).attr("x2", o.right)
      .attr("y1", y(o.threshold)).attr("y2", y(o.threshold))
      .attr("stroke", "#e8453c").attr("stroke-width", 1).attr("stroke-dasharray", "2,2");
  }

  // axes
  const ya = g.append("g").attr("transform", `translate(${o.left},0)`)
    .call(d3.axisLeft(y).tickValues(o.yTicks).tickFormat(o.yFormat).tickSize(3).tickSizeOuter(0).tickPadding(3));
  const xa = g.append("g").attr("transform", `translate(0,${o.bottom})`)
    .call(d3.axisBottom(x).tickValues(o.xTicks).tickFormat(d3.format(".2f")).tickSize(2).tickSizeOuter(0).tickPadding(5));
  [ya, xa].forEach(a => {
    a.select(".domain").attr("stroke", "#8a8a8a").attr("stroke-width", 1.5);
    a.selectAll(".tick line").attr("stroke", "#8a8a8a");
    a.selectAll("text").attr("font-size", 13).attr("fill", "#222").attr("font-family", font);
  });

  // axis titles
  g.append("text").attr("x", (o.left + o.right) / 2).attr("y", o.bottom + 31)
    .attr("text-anchor", "middle").attr("font-size", 13).attr("fill", "#222").text(o.xLabel);
  const yl = g.append("text").attr("transform", `translate(13,${(top + o.bottom) / 2}) rotate(-90)`)
    .attr("text-anchor", "middle").attr("font-size", 13).attr("fill", "#222");
  yl.append("tspan").text("-log");
  yl.append("tspan").attr("font-size", 9).attr("dy", 3).text("10");
  yl.append("tspan").attr("dy", -3).text(" (");
  yl.append("tspan").attr("font-style", "italic").text("P");
  yl.append("tspan").text(")");

  // titles
  g.append("text").attr("x", (o.left + o.right) / 2).attr("y", o.titleY)
    .attr("text-anchor", "middle").attr("font-size", 12.5).attr("font-style", "italic").attr("fill", "#222").text(o.title);
  g.append("text").attr("x", x(o.lead[0])).attr("y", o.rsY)
    .attr("text-anchor", "middle").attr("font-size", 12.5).attr("font-style", "italic").attr("fill", "#222").text(o.rs);

  // points, low LD first
  const pts = g.append("g");
  [4, 3, 2, 1, 0].forEach(k => {
    const data = o.series[k];
    pts.selectAll(null).data(data.filter(d => d[2] === 1)).join("circle")
      .attr("cx", d => x(d[0])).attr("cy", d => y(d[1])).attr("r", 6.8)
      .attr("fill", "#fff").attr("stroke", o.ringColor).attr("stroke-width", 1.4);
    pts.selectAll(null).data(data).join("circle")
      .attr("cx", d => x(d[0])).attr("cy", d => y(d[1])).attr("r", 4.6)
      .attr("fill", ldColors[k]).attr("stroke", "#2b2b2b").attr("stroke-opacity", 0.55).attr("stroke-width", 0.7);
  });
  pts.selectAll(null).data(o.squares).join("path")
    .attr("transform", d => `translate(${x(d[0])},${y(d[1])})`)
    .attr("d", d3.symbol(d3.symbolSquare, o.squareSize)())
    .attr("fill", d => ldColors[d[2]]).attr("stroke", "#333").attr("stroke-width", 1.2);
  if (o.leadRing) {
    pts.append("circle").attr("cx", x(o.lead[0])).attr("cy", y(o.lead[1])).attr("r", 8.5)
      .attr("fill", "#fff").attr("stroke", o.ringColor).attr("stroke-width", 1.4);
  }
  pts.append("path").attr("transform", `translate(${x(o.lead[0])},${y(o.lead[1])})`)
    .attr("d", d3.symbol(d3.symbolDiamond, 75)()).attr("fill", "#111").attr("stroke", "#000");

  // LD legend
  const lg = g.append("g").attr("transform", `translate(${o.legendX},${o.legendY})`);
  lg.append("rect").attr("width", 53).attr("height", 60).attr("fill", "#eeeeee")
    .attr("stroke", "#7a7a7a").attr("stroke-width", 1.5);
  lg.append("path").attr("transform", "translate(5,5.5)").attr("d", d3.symbol(d3.symbolDiamond, 22)()).attr("fill", "#111");
  lg.append("text").attr("x", 8.5).attr("y", 8.2).attr("font-size", 7.5).attr("fill", "#222").text("Lead variant");
  ldLabels.forEach((t, i) => {
    lg.append("circle").attr("cx", 5).attr("cy", 15.5 + i * 10).attr("r", 3.4)
      .attr("fill", ldColors[i]).attr("stroke", "#333").attr("stroke-width", 0.5);
    lg.append("text").attr("x", 8.5).attr("y", 18.2 + i * 10).attr("font-size", 7.5).attr("fill", "#222").text(t);
  });

  // credible set box
  if (o.credX != null) {
    const cg = g.append("g").attr("transform", `translate(${o.credX},${o.credY})`);
    cg.append("rect").attr("width", 48).attr("height", 21).attr("fill", "#e6e6e6").attr("stroke", "#666").attr("stroke-width", 1.2);
    cg.append("line").attr("x1", 0).attr("x2", 48).attr("y1", 10.5).attr("y2", 10.5).attr("stroke", "#666");
    cg.append("text").attr("x", 24).attr("y", 8.3).attr("text-anchor", "middle").attr("font-size", 7.8).attr("fill", "#222").text("Credible set");
    cg.append("text").attr("x", 24).attr("y", 18.6).attr("text-anchor", "middle").attr("font-size", 7.8).attr("fill", "#222").text("o 1");
  }

  // gene track
  const clipId = "clip" + o.id;
  svg.append("clipPath").attr("id", clipId).append("rect")
    .attr("x", o.left).attr("y", o.geneY - 20).attr("width", o.right - o.left + 3).attr("height", 140);
  const gg = g.append("g").attr("clip-path", `url(#${clipId})`);
  const lab = g.append("g");
  o.genes.forEach(([name, s, e, row, exons]) => {
    const ly = o.geneY + row * o.genePitch;
    gg.append("line").attr("x1", x(s)).attr("x2", x(e)).attr("y1", ly).attr("y2", ly)
      .attr("stroke", "#b9474a").attr("stroke-width", 1);
    exons.forEach(ex => {
      const a = Array.isArray(ex) ? ex[0] : ex;
      const b = Array.isArray(ex) ? ex[1] : ex;
      const w = Math.max(1.3, x(b) - x(a));
      gg.append("rect").attr("x", x(a) - (Array.isArray(ex) ? 0 : 0.65)).attr("y", ly - o.exonH / 2)
        .attr("width", w).attr("height", o.exonH).attr("fill", "#c8141c").attr("fill-opacity", 0.92);
    });
    const t = lab.append("text").attr("y", ly - o.labelOff).attr("text-anchor", "middle")
      .attr("font-size", o.geneFont).attr("font-style", "italic").attr("fill", "#333").text(name);
    const half = t.node().getComputedTextLength() / 2;
    let cx = (x(s) + x(e)) / 2;
    cx = Math.max(o.left + half + 2, Math.min(o.right - half + 2, cx));
    t.attr("x", cx);
  });
}

drawPanel({
  id: 1, xDomain: [59.1713, 59.5719], left: 45, right: 763, bottom: 304, ppu: 71.25, yMax: 4.05,
  xTicks: p1XTicks, yTicks: p1YTicks, yFormat: d => d === 0 ? "0" : d3.format(".1f")(d),
  threshold: 3.07, xLabel: "Chromosome 8 (Mb)", title: "UBXN2B/CYP7A1", titleY: 12, rs: "rs1529367", rsY: 28,
  lead: p1Lead, leadRing: true, ringColor: "#8a8a8a", squares: p1Square, squareSize: 90,
  series: [p1Red, p1Orange, p1Yellow, p1Green, p1Blue],
  legendX: 707, legendY: 20, credX: 49, credY: 21,
  genes: genes1, geneY: 352, genePitch: 19, exonH: 10, labelOff: 8, geneFont: 8.5
});

drawPanel({
  id: 2, xDomain: [154.9211, 155.3224], left: 45, right: 763, bottom: 628, ppu: 69.33, yMax: 3.15,
  xTicks: p2XTicks, yTicks: p2YTicks, yFormat: d => d === 0 ? "0" : d3.format(".1f")(d),
  threshold: null, xLabel: "Chromosome 1 (Mb)", title: "DPM3", titleY: 405, rs: "rs6676150", rsY: 422,
  lead: p2Lead, leadRing: false, ringColor: "#8a8a8a", squares: p2Square, squareSize: 110,
  series: [p2Red, p2Orange, p2Yellow, p2Green, p2Blue],
  legendX: 709, legendY: 412, credX: null,
  genes: genes2, geneY: 674, genePitch: 16.2, exonH: 8, labelOff: 5, geneFont: 8
});

drawPanel({
  id: 3, xDomain: [45.98, 46.3839], left: 37, right: 764, bottom: 1059, ppu: 47.2, yMax: 5.25,
  xTicks: p3XTicks, yTicks: p3YTicks, yFormat: d3.format("d"),
  threshold: 2.58, xLabel: "Chromosome 19 (Mb)", title: "GIPR", titleY: 806, rs: "rs113331129", rsY: 822,
  lead: p3Lead, leadRing: false, ringColor: "#444", squares: p3Square, squareSize: 170,
  series: [p3Red, p3Orange, p3Yellow, p3Green, p3Blue],
  legendX: 711, legendY: 814, credX: 43, credY: 816,
  genes: genes3, geneY: 1106, genePitch: 16, exonH: 8, labelOff: 5, geneFont: 8
});
</script>
</body>
</html>
